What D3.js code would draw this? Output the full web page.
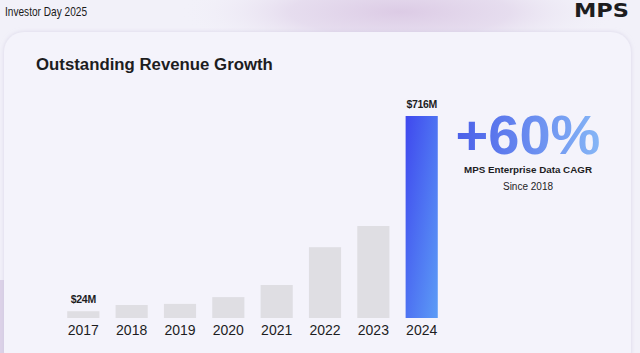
<!DOCTYPE html>
<html><head><meta charset="utf-8">
<script src="https://cdn.jsdelivr.net/npm/d3@7"></script>
<style>html,body{margin:0;padding:0;background:#f2f1f9;overflow:hidden}</style>
</head><body>
<svg id="c" width="640" height="353"></svg>
<script>
const years = ["2017","2018","2019","2020","2021","2022","2023","2024"];
const revenue = [24, 46, 50, 74, 117, 251, 326, 716];
const valueLabels = {"2017":"$24M","2024":"$716M"};
const title = "Outstanding Revenue Growth";
const header = "Investor Day 2025";
const cagr = "+60%";
const cagrLabel = "MPS Enterprise Data CAGR";
const cagrSub = "Since 2018";

const svg = d3.select("#c");
const defs = svg.append("defs");
const bgG = defs.append("radialGradient").attr("id","blob").attr("cx","0.5").attr("cy","0.5").attr("r","0.5");
bgG.append("stop").attr("offset","0").attr("stop-color","#dccbe5").attr("stop-opacity",1);
bgG.append("stop").attr("offset","0.5").attr("stop-color","#e3d8ec").attr("stop-opacity",0.8);
bgG.append("stop").attr("offset","1").attr("stop-color","#f2f1f9").attr("stop-opacity",0);
const barG = defs.append("linearGradient").attr("id","barG").attr("x1","0").attr("y1","0").attr("x2","1").attr("y2","1");
barG.append("stop").attr("offset","0").attr("stop-color","#3f48ee");
barG.append("stop").attr("offset","1").attr("stop-color","#5c9cf6");
const txtG = defs.append("linearGradient").attr("id","txtG").attr("x1","0").attr("y1","0").attr("x2","1").attr("y2","0");
txtG.append("stop").attr("offset","0").attr("stop-color","#4b5fe9");
txtG.append("stop").attr("offset","1").attr("stop-color","#86b6f6");
const cardF = defs.append("filter").attr("id","sh").attr("x","-5%").attr("y","-5%").attr("width","110%").attr("height","110%");
cardF.append("feDropShadow").attr("dx",0).attr("dy",0).attr("stdDeviation",2).attr("flood-color","#c9c2dc").attr("flood-opacity",0.6);

svg.append("rect").attr("width",640).attr("height",353).attr("fill","#f2f1f9");
svg.append("ellipse").attr("cx",400).attr("cy",12).attr("rx",220).attr("ry",48).attr("fill","url(#blob)");
svg.append("rect").attr("x",0).attr("y",280).attr("width",4).attr("height",73).attr("fill","#dcd2e8");
svg.append("rect").attr("x",4).attr("y",32).attr("width",627).attr("height",340).attr("rx",20)
  .attr("fill","#f4f3fb").attr("filter","url(#sh)");

svg.append("text").attr("x",5).attr("y",16).text(header)
  .attr("font-family","Liberation Sans Narrow, Liberation Sans, Arial, sans-serif").attr("font-size",13.5)
  .attr("textLength",82).attr("lengthAdjust","spacingAndGlyphs").attr("fill","#1a1a1a");
svg.append("text").attr("x",574).attr("y",17).text("MPS")
  .attr("font-family","DejaVu Sans, sans-serif").attr("font-weight","bold").attr("font-size",19)
  .attr("textLength",55).attr("lengthAdjust","spacingAndGlyphs").attr("fill","#1d1d1f");

svg.append("text").attr("x",36).attr("y",70).text(title)
  .attr("font-family","Liberation Sans, Arial, sans-serif").attr("font-weight","bold").attr("font-size",16.8).attr("fill","#1d1d1f");

const x = d3.scaleBand().domain(years).range([59.5,445.5]).paddingInner(0.335).paddingOuter(0.16);
const y = d3.scaleLinear().domain([0,716]).range([318,116]);

svg.append("g").selectAll("rect").data(years).join("rect")
  .attr("x",d=>x(d)).attr("width",x.bandwidth())
  .attr("y",(d,i)=>y(revenue[i])).attr("height",(d,i)=>y(0)-y(revenue[i]))
  .attr("fill",d=>d==="2024"?"url(#barG)":"#dfdee3");

svg.append("g").selectAll("text").data(years.filter(d=>valueLabels[d])).join("text")
  .attr("x",d=>x(d)+x.bandwidth()/2).attr("y",d=>y(revenue[years.indexOf(d)])-8)
  .attr("text-anchor","middle").text(d=>valueLabels[d])
  .attr("font-family","Liberation Sans, Arial, sans-serif").attr("font-weight","bold").attr("font-size",10.5)
  .attr("letter-spacing","-0.3").attr("fill","#1d1d1f");

const ax = svg.append("g").attr("transform","translate(0,318)").call(d3.axisBottom(x).tickSize(0).tickPadding(6));
ax.select(".domain").remove();
ax.selectAll("text").attr("font-family","Liberation Sans, Arial, sans-serif").attr("font-size",14).attr("fill","#1d1d1f").attr("dy","0.75em");

svg.append("text").attr("x",528).attr("y",154).attr("text-anchor","middle").text(cagr)
  .attr("font-family","Liberation Sans, Arial, sans-serif").attr("font-weight","bold").attr("font-size",56).attr("fill","url(#txtG)");
svg.append("text").attr("x",528).attr("y",173).attr("text-anchor","middle").text(cagrLabel)
  .attr("font-family","Liberation Sans, Arial, sans-serif").attr("font-weight","bold").attr("font-size",9.8).attr("fill","#1d1d1f");
svg.append("text").attr("x",528).attr("y",190).attr("text-anchor","middle").text(cagrSub)
  .attr("font-family","Liberation Sans, Arial, sans-serif").attr("font-size",10).attr("fill","#1d1d1f");
</script>
</body></html>
